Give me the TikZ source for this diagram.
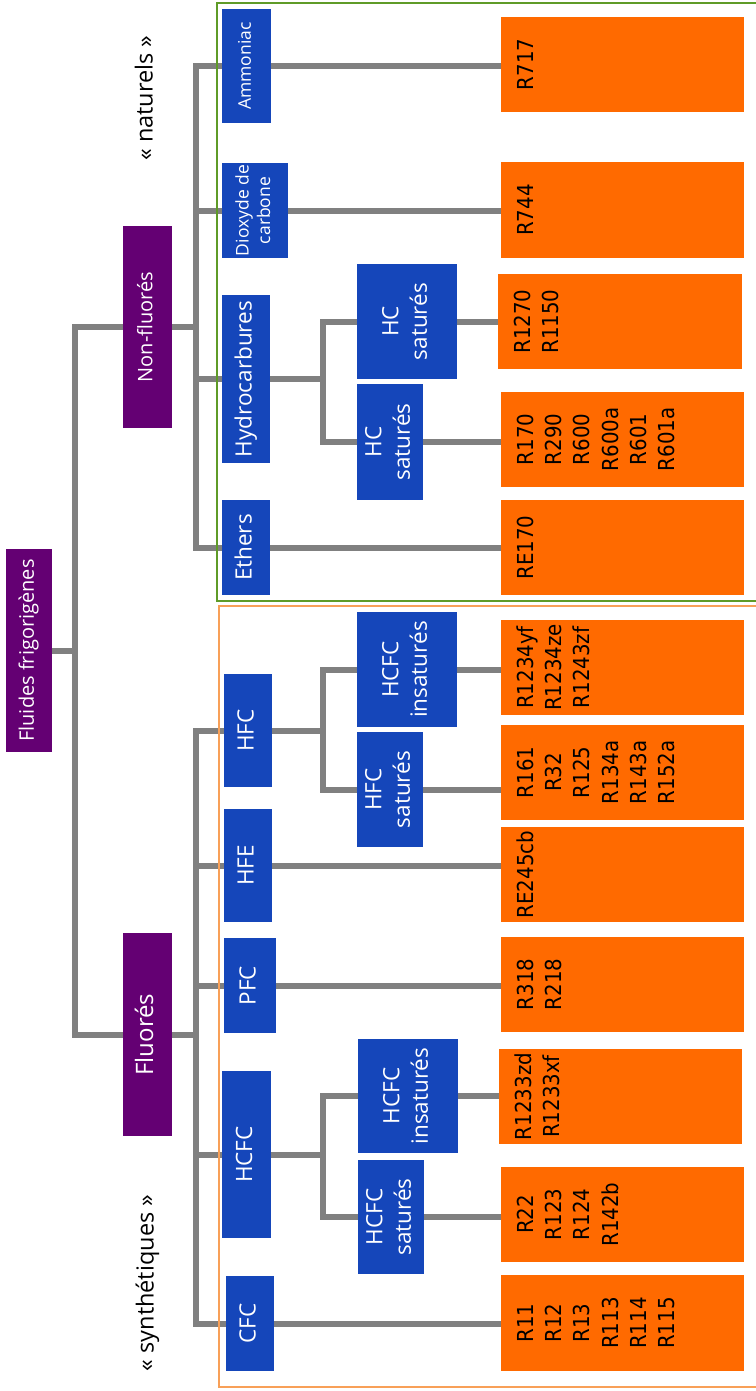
\documentclass[tikz,border=0pt]{standalone}
\usepackage{graphicx}
\usepackage{fontspec}
\setmainfont{Open Sans}
\newfontfamily\condfont{DejaVu Sans Condensed}
\usetikzlibrary{calc}
\definecolor{cblue}{RGB}{21,70,186}
\definecolor{cpurple}{RGB}{100,0,115}
\definecolor{corange}{RGB}{255,106,0}
\definecolor{cgray}{RGB}{128,128,128}
\definecolor{cgreen}{RGB}{95,155,40}
\definecolor{cframe}{RGB}{248,160,88}
\pgfdeclarelayer{bg}\pgfdeclarelayer{mid}\pgfsetlayers{bg,mid,main}
\newcommand\rot[1]{\rotatebox{90}{\begin{tabular}{@{}c@{}}#1\end{tabular}}}
\newcommand\mybox[7]{\node[#1, minimum width={(#5-#3)*1pt}, minimum height={(#6-#4)*1pt}] (#2) at ({(#3+#5)/2},{-(#4+#6)/2}) {#7};}
\newcommand\otext[2]{\node[otxt, anchor=west] (#1t) at ([xshift=12.5pt]#1.west) {\rot{#2}};}
\tikzset{
  bbox/.style={fill=cblue, text=white, inner sep=0pt, outer sep=0pt, font=\fontsize{22.5}{28.5}\selectfont},
  sbox/.style={bbox, font=\fontsize{17.5}{21.5}\selectfont},
  pbox/.style={fill=cpurple, text=white, inner sep=0pt, outer sep=0pt, font=\fontsize{20}{24}\selectfont},
  bigp/.style={pbox, font=\fontsize{24}{28}\selectfont},
  obox/.style={fill=corange, inner sep=0pt, outer sep=0pt},
  otxt/.style={inner sep=0pt, outer sep=0pt, text=black, font=\condfont\fontsize{22}{28.3}\selectfont},
  conn/.style={draw=cgray, line width=6pt},
  lab/.style={text=black, inner sep=0pt, font=\fontsize{23.5}{28}\selectfont},
  frameg/.style={draw=cgreen, line width=2pt},
  frameo/.style={draw=cframe, line width=2pt},
}
\begin{document}
\begin{tikzpicture}[x=1pt,y=1pt]
\useasboundingbox (0,0) rectangle (755,-1391);
% purple
\mybox{pbox}{root}{6}{549}{52}{752}{\rot{Fluides frigorigènes}}
\mybox{pbox}{nf}{123}{226}{172}{428}{\rot{Non-fluorés}}
\mybox{bigp}{fl}{123}{933}{172}{1136}{\rot{Fluorés}}
% blue, non-fluorés
\mybox{sbox}{amm}{222}{9}{271}{123}{\rot{Ammoniac}}
\mybox{sbox}{dio}{222}{163}{288}{258}{\rot{Dioxyde de\\carbone}}
\mybox{bbox}{hyd}{222}{295}{270}{463}{\rot{Hydrocarbures}}
\mybox{bbox}{eth}{222}{500}{270}{595}{\rot{Ethers}}
\mybox{bbox}{hcs1}{357}{264}{457}{379}{\rot{HC\\saturés}}
\mybox{bbox}{hcs2}{357}{384}{423}{500}{\rot{HC\\saturés}}
% blue, fluorés
\mybox{bbox}{hfc}{224}{674}{272}{787}{\rot{HFC}}
\mybox{bbox}{hfe}{224}{809}{272}{922}{\rot{HFE}}
\mybox{bbox}{pfc}{224}{938}{276}{1033}{\rot{PFC}}
\mybox{bbox}{hcfc}{222}{1071}{271}{1238}{\rot{HCFC}}
\mybox{bbox}{cfc}{226}{1276}{274}{1371}{\rot{CFC}}
\mybox{bbox}{hfcA}{357}{612}{457}{727}{\rot{HCFC\\insaturés}}
\mybox{bbox}{hfcB}{357}{732}{423}{847}{\rot{HFC\\saturés}}
\mybox{bbox}{hcfcA}{358}{1039}{458}{1153}{\rot{HCFC\\insaturés}}
\mybox{bbox}{hcfcB}{358}{1160}{424}{1274}{\rot{HCFC\\saturés}}
% orange
\mybox{obox}{o717}{501}{17}{744}{112}{}
\mybox{obox}{o744}{501}{162}{744}{258}{}
\mybox{obox}{o1270}{498}{274}{742}{369}{}
\mybox{obox}{o170}{501}{392}{744}{487}{}
\mybox{obox}{oe170}{501}{500}{744}{595}{}
\mybox{obox}{o1234}{501}{620}{744}{715}{}
\mybox{obox}{o161}{501}{725}{744}{820}{}
\mybox{obox}{o245}{501}{827}{744}{922}{}
\mybox{obox}{o318}{501}{937}{744}{1032}{}
\mybox{obox}{o1233}{499}{1049}{742}{1144}{}
\mybox{obox}{o22}{501}{1167}{744}{1262}{}
\mybox{obox}{o11}{501}{1275}{744}{1371}{}
\otext{o717}{R717}
\otext{o744}{R744}
\otext{o1270}{R1270\\R1150}
\otext{o170}{R170\\R290\\R600\\R600a\\R601\\R601a}
\otext{oe170}{RE170}
\otext{o1234}{R1234yf\\R1234ze\\R1243zf}
\otext{o161}{R161\\R32\\R125\\R134a\\R143a\\R152a}
\otext{o245}{RE245cb}
\otext{o318}{R318\\R218}
\otext{o1233}{R1233zd\\R1233xf}
\otext{o22}{R22\\R123\\R124\\R142b}
\otext{o11}{R11\\R12\\R13\\R113\\R114\\R115}
% side labels
\node[lab] (nat) at (147,-98) {\rot{«~naturels~»}};
\node[lab] (syn) at (148,-1283) {\rot{«~synthétiques~»}};
% trunks
\coordinate (tR) at (75,0);
\coordinate (tN) at (196,0);
\coordinate (tH) at (323,0);
\begin{pgfonlayer}{mid}
\draw[frameg] (217,-3) rectangle (758,-601);
\draw[frameo] (219,-606) rectangle (758,-1387);
\end{pgfonlayer}
\begin{pgfonlayer}{bg}
\foreach \c in {nf,fl} \draw[conn] (root.east) -- (root.east -| tR) |- (\c.west);
\foreach \c in {amm,dio,hyd,eth} \draw[conn] (nf.east) -- (nf.east -| tN) |- (\c.west);
\foreach \c in {hfc,hfe,pfc,hcfc,cfc} \draw[conn] (fl.east) -- (fl.east -| tN) |- (\c.west);
\foreach \c in {hcs1,hcs2} \draw[conn] (hyd.east) -- (hyd.east -| tH) |- (\c.west);
\foreach \c in {hfcA,hfcB} \draw[conn] (hfc.east) -- (hfc.east -| tH) |- (\c.west);
\foreach \c in {hcfcA,hcfcB} \draw[conn] (hcfc.east) -- (hcfc.east -| tH) |- (\c.west);
\foreach \a/\b in {amm/o717,dio/o744,hcs1/o1270,hcs2/o170,eth/oe170,hfcA/o1234,hfcB/o161,hfe/o245,pfc/o318,hcfcA/o1233,hcfcB/o22,cfc/o11}
  \draw[conn] (\a.east) -- (\a.east -| \b.west);
\end{pgfonlayer}
\end{tikzpicture}
\end{document}
